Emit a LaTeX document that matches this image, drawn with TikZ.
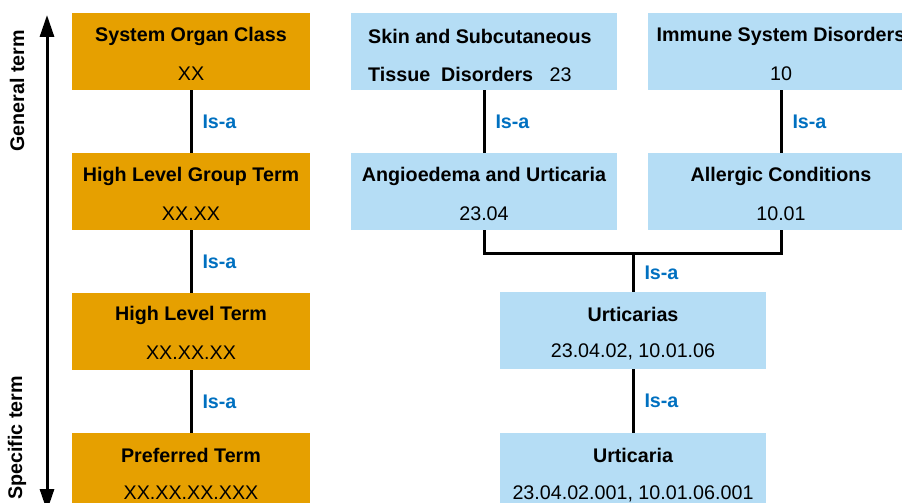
\documentclass[tikz,border=0pt]{standalone}
\usepackage{fontspec}
\setmainfont{Liberation Sans}
\usetikzlibrary{arrows.meta}
\definecolor{orangeC}{RGB}{230,160,0}
\definecolor{blueC}{RGB}{181,221,245}
\definecolor{isaC}{RGB}{0,112,192}
\tikzset{
  obox/.style={fill=orangeC, draw=none, minimum width=238pt, minimum height=77pt, inner sep=0pt},
  bbox/.style={fill=blueC, draw=none, minimum width=266pt, minimum height=77pt, inner sep=0pt},
  conn/.style={line width=3pt, draw=black},
  isa/.style={text=isaC, font=\fontsize{19.7}{22}\selectfont\bfseries, anchor=west, inner sep=0pt, xshift=10pt},
  ttl/.style={font=\fontsize{19.7}{22}\selectfont\bfseries, inner sep=0pt},
  cod/.style={font=\fontsize{19.7}{22}\selectfont, inner sep=0pt},
  side/.style={font=\fontsize{19.7}{22}\selectfont\bfseries, inner sep=0pt, rotate=90},
}
\begin{document}
\begin{tikzpicture}[x=1pt, y=-1pt]
\clip (0,0) rectangle (902,503);
\useasboundingbox (0,0) rectangle (902,503);
% orange column
\node[obox] (o1) at (191,51.5) {};
\node[obox] (o2) at (191,191.5) {};
\node[obox] (o3) at (191,331.5) {};
\node[obox] (o4) at (191,471.5) {};
\node[ttl] (o1t) at (191,36) {System Organ Class};
\node[cod] (o1c) at (191,74) {XX};
\node[ttl] (o2t) at (191,176) {High Level Group Term};
\node[cod] (o2c) at (191,214) {XX.XX};
\node[ttl] (o3t) at (191,315) {High Level Term};
\node[cod] (o3c) at (191,353) {XX.XX.XX};
\node[ttl] (o4t) at (191,455) {Preferred Term};
\node[cod] (o4c) at (191,493) {XX.XX.XX.XXX};
% blue boxes
\node[bbox] (skin) at (484,51.5) {};
\node[bbox] (imm) at (781,51.5) {};
\node[bbox] (ang) at (484,191.5) {};
\node[bbox] (all) at (781,191.5) {};
\node[bbox] (urs) at (633,330.5) {};
\node[bbox] (ur) at (633,471.5) {};
\node[ttl, anchor=west] (skint) at (368,36) {Skin and Subcutaneous};
\node[ttl, anchor=west] (skinc) at (368,74) {Tissue\ \ Disorders\ \ \ {\mdseries 23}};
\node[ttl] (immt) at (781,36) {Immune System Disorders};
\node[cod] (immc) at (781,74) {10};
\node[ttl] (angt) at (484,176) {Angioedema and Urticaria};
\node[cod] (angc) at (484,214) {23.04};
\node[ttl] (allt) at (781,176) {Allergic Conditions};
\node[cod] (allc) at (781,214) {10.01};
\node[ttl] (urst) at (633,314) {Urticarias};
\node[cod] (ursc) at (633,352) {23.04.02, 10.01.06};
\node[ttl] (urt) at (633,455) {Urticaria};
\node[cod] (urc) at (633,494) {23.04.02.001, 10.01.06.001};
% connectors
\draw[conn] (o1) -- node[isa, midway] {Is-a} (o2);
\draw[conn] (o2) -- node[isa, midway] {Is-a} (o3);
\draw[conn] (o3) -- node[isa, midway] {Is-a} (o4);
\draw[conn] (skin) -- node[isa, midway] {Is-a} (ang);
\draw[conn] (imm) -- node[isa, midway] {Is-a} (all);
\coordinate (j) at (633,253);
\draw[conn] (ang.south) |- (j) -| (all.south);
\draw[conn] (j) -- node[isa, midway] {Is-a} (urs);
\draw[conn] (urs) -- node[isa, midway] {Is-a} (ur);
% side arrow
\coordinate (atop) at (47,15);
\coordinate (abot) at (47,511);
\draw[line width=3pt, {Triangle[length=22pt,width=14pt]}-{Triangle[length=22pt,width=14pt]}] (atop) -- (abot);
\node[side] (gen) at (17,91) {General term};
\node[side] (spec) at (17,438) {Specific term};
\end{tikzpicture}
\end{document}
